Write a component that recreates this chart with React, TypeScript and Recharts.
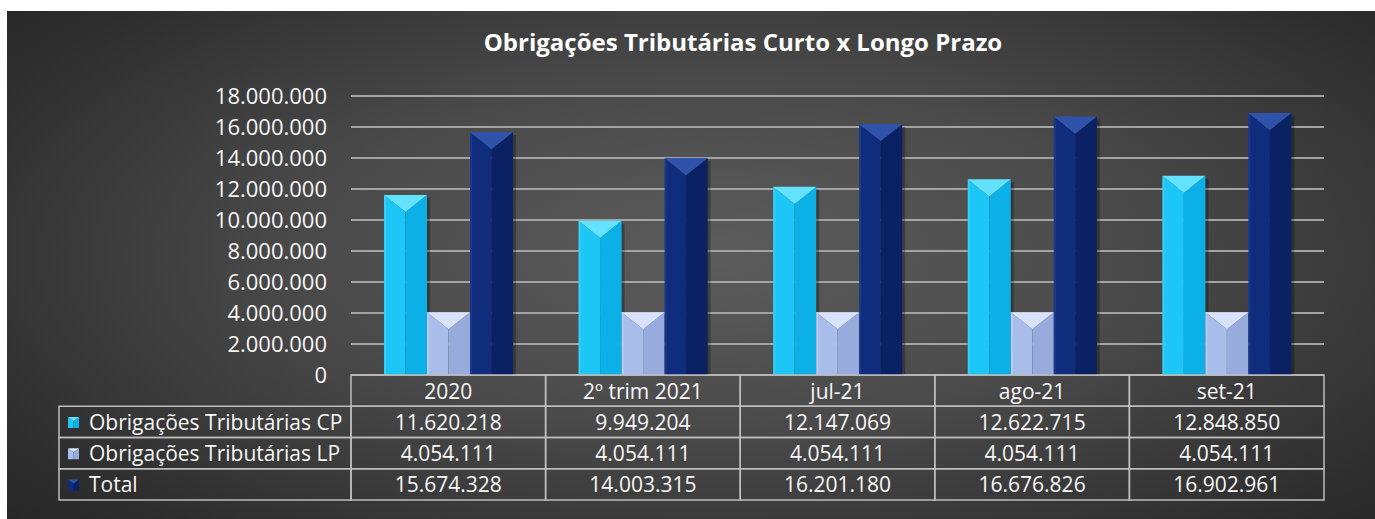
import { Bar, BarChart, CartesianGrid, XAxis, YAxis } from 'recharts';

const categories = ['2020', '2º trim 2021', 'jul-21', 'ago-21', 'set-21'];
const cpValues = [11620218, 9949204, 12147069, 12622715, 12848850];
const lpValues = [4054111, 4054111, 4054111, 4054111, 4054111];
const totalValues = [15674328, 14003315, 16201180, 16676826, 16902961];
const seriesNames = ['Obrigações Tributárias CP', 'Obrigações Tributárias LP', 'Total'];
const yTicks = [0, 2000000, 4000000, 6000000, 8000000, 10000000, 12000000, 14000000, 16000000, 18000000];

const W = 1368;
const H = 508;
const PLOT_LEFT = 344;
const PLOT_RIGHT = 1317;
const ROW_H = 31.25;
const FONT = '"Open Sans", sans-serif';
const BORDER = '#bdbdbd';

type Palette = { top: string; left: string; right: string };
const palettes: Palette[] = [
  { top: '#62e2ff', left: '#1cc6f6', right: '#0bb0e6' },
  { top: '#d8e3fb', left: '#a9bdea', right: '#97acdd' },
  { top: '#2f52aa', left: '#0f2c7d', right: '#0a2163' },
];

const data = categories.map((c, i) => ({
  name: c,
  cp: cpValues[i],
  lp: lpValues[i],
  total: totalValues[i],
}));
const seriesKeys = ['cp', 'lp', 'total'] as const;
const seriesValues = [cpValues, lpValues, totalValues];

function fmt(v: number): string {
  return String(Math.round(v)).replace(/\B(?=(\d{3})+(?!\d))/g, '.');
}

function bevel(pal: Palette) {
  return (props: any) => {
    const { x, y, width, height } = props;
    if (!height || height <= 0) return <g />;
    const cx = x + width / 2;
    const d = Math.min(width * 0.4, height);
    const b = y + height;
    return (
      <g>
        <rect x={x + 3} y={y + 3} width={width} height={height - 3} fill="rgba(0,0,0,0.28)" />
        <polygon points={`${x},${y} ${cx},${y + d} ${cx},${b} ${x},${b}`} fill={pal.left} />
        <polygon points={`${x + width},${y} ${cx},${y + d} ${cx},${b} ${x + width},${b}`} fill={pal.right} />
        <polygon points={`${x},${y} ${x + width},${y} ${cx},${y + d}`} fill={pal.top} />
        <rect x={x} y={y} width={2} height={height} fill={pal.top} opacity={0.35} />
      </g>
    );
  };
}

function LegendIcon({ x, y, pal }: { x: number; y: number; pal: Palette }) {
  const s = 11;
  const cx = x + s / 2;
  return (
    <g>
      <polygon points={`${x},${y} ${cx},${y + 4} ${cx},${y + s} ${x},${y + s}`} fill={pal.left} />
      <polygon points={`${x + s},${y} ${cx},${y + 4} ${cx},${y + s} ${x + s},${y + s}`} fill={pal.right} />
      <polygon points={`${x},${y} ${x + s},${y} ${cx},${y + 4}`} fill={pal.top} />
    </g>
  );
}

function TableColumn(props: any) {
  const { x, y, payload } = props;
  const idx = categories.indexOf(payload.value);
  const band = (PLOT_RIGHT - PLOT_LEFT) / categories.length;
  const x0 = x - band / 2;
  const textStyle = { fontFamily: FONT, fontSize: 21, fill: '#f7f7f7' };
  return (
    <g>
      {idx === 0 && (
        <g>
          {seriesNames.map((n, r) => {
            const ry = y + ROW_H * (r + 1);
            return (
              <g key={n}>
                <rect x={52} y={ry} width={x0 - 52} height={ROW_H} fill="none" stroke={BORDER} strokeWidth={1.5} />
                <LegendIcon x={61} y={ry + ROW_H / 2 - 5} pal={palettes[r]} />
                <text x={82} y={ry + ROW_H / 2} dominantBaseline="central" {...textStyle}>
                  {n}
                </text>
              </g>
            );
          })}
        </g>
      )}
      <rect x={x0} y={y} width={band} height={ROW_H} fill="none" stroke={BORDER} strokeWidth={1.5} />
      <text x={x} y={y + ROW_H / 2} textAnchor="middle" dominantBaseline="central" {...textStyle}>
        {payload.value}
      </text>
      {seriesValues.map((vals, r) => {
        const ry = y + ROW_H * (r + 1);
        return (
          <g key={r}>
            <rect x={x0} y={ry} width={band} height={ROW_H} fill="none" stroke={BORDER} strokeWidth={1.5} />
            <text x={x} y={ry + ROW_H / 2} textAnchor="middle" dominantBaseline="central" {...textStyle}>
              {fmt(vals[idx])}
            </text>
          </g>
        );
      })}
    </g>
  );
}

export default function App() {
  return (
    <div
      style={{
        position: 'absolute',
        left: 7,
        top: 11,
        width: W,
        height: H,
        background: 'radial-gradient(ellipse 75% 85% at 52% 48%, #5c5c5c 0%, #4a4a4a 40%, #2e2e2e 80%, #222 100%)',
      }}
    >
      <div
        style={{
          position: 'absolute',
          left: 0,
          width: 1472,
          top: 16,
          textAlign: 'center',
          color: '#fff',
          fontFamily: FONT,
          fontWeight: 700,
          fontSize: 24,
          lineHeight: '30px',
        }}
      >
        Obrigações Tributárias Curto x Longo Prazo
      </div>
      <BarChart
        width={W}
        height={H}
        data={data}
        margin={{ top: 85, right: W - PLOT_RIGHT, left: 44, bottom: 0 }}
        barGap={0}
        barSize={43}
      >
        <CartesianGrid vertical={false} stroke="#a3a3a3" strokeWidth={2} />
        <YAxis
          width={300}
          domain={[0, 18000000]}
          ticks={yTicks}
          interval={0}
          axisLine={false}
          tickLine={false}
          tickSize={0}
          tickMargin={24}
          tickFormatter={fmt}
          tick={{ fill: '#f7f7f7', fontSize: 22, fontFamily: FONT }}
        />
        <XAxis
          dataKey="name"
          height={144}
          axisLine={false}
          tickLine={false}
          tickSize={0}
          tickMargin={0}
          interval={0}
          tick={<TableColumn />}
        />
        {seriesKeys.map((k, i) => (
          <Bar key={k} dataKey={k} name={seriesNames[i]} isAnimationActive={false} shape={bevel(palettes[i])} />
        ))}
      </BarChart>
    </div>
  );
}
